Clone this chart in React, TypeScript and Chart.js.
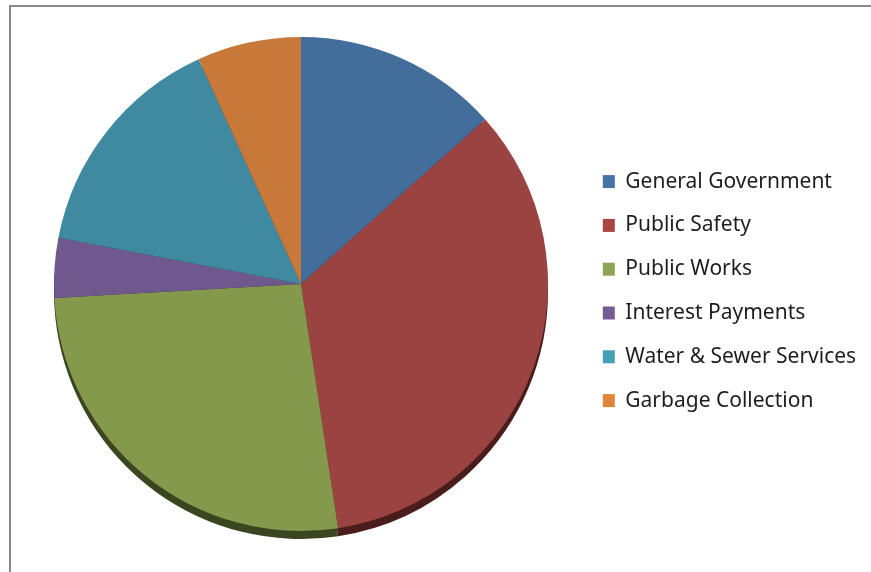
import React, { useEffect, useRef } from "react";
import { Chart, registerables } from "chart.js";

Chart.register(...registerables);

const categories = [
  "General Government",
  "Public Safety",
  "Public Works",
  "Interest Payments",
  "Water & Sewer Services",
  "Garbage Collection",
];
const shares = [13.4, 34.2, 26.5, 3.9, 15.2, 6.8];
const sliceColors = ["#436E9B", "#9B4341", "#84994C", "#6F588B", "#3F8AA1", "#C8793A"];
const rimColors = ["#1F3348", "#4A1D1C", "#3A4620", "#32273F", "#1C3F4A", "#5C3618"];
const legendColors = ["#4672A6", "#A84644", "#8BA653", "#765C94", "#44A0B6", "#E0853C"];

const RIM_OFFSET = 8;

const rimPlugin = {
  id: "rim",
  beforeDatasetsDraw(chart: any) {
    const meta = chart.getDatasetMeta(0);
    const ctx = chart.ctx;
    ctx.save();
    meta.data.forEach((arc: any, i: number) => {
      const { x, y, startAngle, endAngle, outerRadius } = arc.getProps(
        ["x", "y", "startAngle", "endAngle", "outerRadius"],
        true
      );
      ctx.beginPath();
      ctx.moveTo(x, y + RIM_OFFSET);
      ctx.arc(x, y + RIM_OFFSET, outerRadius, startAngle, endAngle);
      ctx.closePath();
      ctx.fillStyle = rimColors[i];
      ctx.fill();
    });
    ctx.restore();
  },
};

export default function App() {
  const canvasRef = useRef<HTMLCanvasElement | null>(null);

  useEffect(() => {
    if (!canvasRef.current) return;
    const chart = new Chart(canvasRef.current, {
      type: "pie",
      data: {
        labels: categories,
        datasets: [
          {
            data: shares,
            backgroundColor: sliceColors,
            borderWidth: 0,
          },
        ],
      },
      options: {
        responsive: false,
        animation: false,
        devicePixelRatio: 1,
        layout: { padding: { left: 22, right: 11, top: 37, bottom: 41 } },
        plugins: {
          tooltip: { enabled: false },
          legend: {
            position: "right",
            align: "center",
            maxWidth: 280,
            title: { display: true, text: "", font: { size: 1 }, padding: { top: 13, bottom: 0 } },
            labels: {
              boxWidth: 12,
              boxHeight: 13,
              padding: 22.8,
              color: "#1E1E1E",
              font: { family: "'Noto Sans', sans-serif", size: 21 },
              generateLabels: (c: any) =>
                categories.map((text, i) => ({
                  text,
                  fillStyle: legendColors[i],
                  strokeStyle: legendColors[i],
                  lineWidth: 0,
                  hidden: false,
                  index: i,
                  fontColor: "#1E1E1E",
                })),
            },
          },
        },
      },
      plugins: [rimPlugin],
    });
    return () => chart.destroy();
  }, []);

  return (
    <div style={{ position: "absolute", left: 0, top: 0, width: 871, height: 572, overflow: "hidden", background: "#fff" }}>
      <div
        style={{
          position: "absolute",
          left: 9,
          top: 5,
          width: 900,
          height: 620,
          border: "2px solid #898989",
          boxSizing: "border-box",
        }}
      />
      <canvas ref={canvasRef} width={871} height={572} style={{ position: "absolute", left: 0, top: 0 }} />
    </div>
  );
}
